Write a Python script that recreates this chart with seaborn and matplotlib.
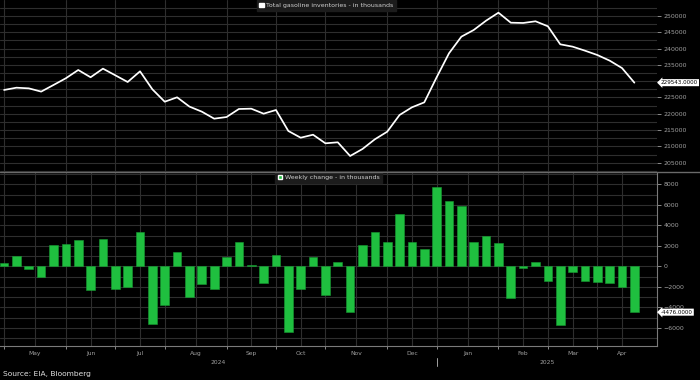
import numpy as np
import pandas as pd
import matplotlib.pyplot as plt
import matplotlib.transforms as mtransforms
from matplotlib.lines import Line2D
from matplotlib.patches import Patch
from matplotlib.ticker import MultipleLocator, FixedLocator, NullFormatter
import seaborn as sns

sns.set_style("dark")
plt.rcParams['font.family'] = ['DejaVu Sans']

# weekly EIA data, thousands of barrels
inventories = [227300, 228000, 227800, 226800, 228830, 230900, 233430, 231200,
               233840, 231800, 229750, 233020, 227500, 223700, 225050, 222200,
               220650, 218500, 219000, 221470, 221560, 220030, 221160, 214720,
               212660, 213580, 210940, 211250, 207050, 209200, 212170, 214500,
               219630, 221980, 223500, 231190, 238550, 243650, 245700, 248560,
               251010, 247940, 247850, 248370, 246840, 241310, 240590, 239360,
               238030, 236300, 234020, 229543]
weekly_change = [330, 975, -290, -1010, 2050, 2150, 2570, -2310,
                 2670, -2240, -2020, 3320, -5630, -3740, 1370, -2960,
                 -1690, -2240, 880, 2340, 130, -1590, 1110, -6370,
                 -2240, 910, -2760, 420, -4450, 2050, 3320, 2370,
                 5100, 2370, 1660, 7710, 6340, 5890, 2370, 2960,
                 2240, -3060, -200, 390, -1460, -5760, -520, -1460,
                 -1560, -1630, -2020, -4476]
first_week = "2024-05-03"
line_label = "Total gasoline inventories - in thousands"
bar_label = "Weekly change - in thousands"
source = "Source: EIA, Bloomberg"

dates = pd.date_range(first_week, periods=len(inventories), freq="7D")
df = pd.DataFrame({"week": np.arange(len(dates)), "inventories": inventories,
                   "change": weekly_change})

# month boundaries = first weekly point of each month
new_month = np.r_[True, dates.month[1:] != dates.month[:-1]]
month_pos = np.flatnonzero(new_month)
month_names = [d.strftime("%b") for d in dates[month_pos]]
month_mid = (month_pos + np.r_[month_pos[1:], len(dates)]) / 2
new_year = np.flatnonzero(np.r_[False, dates.year[1:] != dates.year[:-1]])

W, H = 700, 380
fig = plt.figure(figsize=(7, 3.8), dpi=100, facecolor="black")
ax1 = fig.add_axes([0, 1 - 172 / H, 657 / W, 172 / H])
ax2 = fig.add_axes([0, 1 - 345.5 / H, 657 / W, 173.5 / H])

grid_c = "#2e2e2e"
tick_c = "#a0a0a0"
green = "#1fbf3f"
xlim = (-0.33, 52.83)

sns.lineplot(data=df, x="week", y="inventories", ax=ax1, color="white", lw=1.25)
sns.barplot(data=df, x="week", y="change", ax=ax2, native_scale=True, width=0.7,
            color=green, saturation=1, edgecolor="#179a32", linewidth=0.4, zorder=3)

for ax in (ax1, ax2):
    ax.set_facecolor("black")
    ax.set_xlim(*xlim)
    ax.set_xlabel("")
    ax.set_ylabel("")
    ax.yaxis.tick_right()
    ax.xaxis.set_major_locator(FixedLocator(month_pos))
    ax.xaxis.set_major_formatter(NullFormatter())
    ax.grid(True, which="both", color=grid_c, lw=0.8)
    ax.set_axisbelow(True)
    for s in ax.spines.values():
        s.set_visible(False)
    ax.tick_params(axis="y", which="major", right=True, length=3, width=0.6,
                   color=tick_c, labelcolor=tick_c, labelsize=4.5, pad=1.5)
    ax.tick_params(axis="y", which="minor", length=0)

# top panel
ax1.set_ylim(202140, 254900)
ax1.yaxis.set_major_locator(MultipleLocator(5000))
ax1.yaxis.set_minor_locator(MultipleLocator(2500))
ax1.tick_params(axis="x", which="both", length=0)

# bottom panel
ax2.set_ylim(-7730, 9200)
ax2.yaxis.set_major_locator(MultipleLocator(2000))
ax2.yaxis.set_minor_locator(MultipleLocator(1000))
ax2.xaxis.set_minor_locator(FixedLocator(month_mid))
ax2.set_xticklabels(month_names, minor=True)
ax2.tick_params(axis="x", which="major", bottom=True, length=2.5, width=0.6, color=tick_c)
ax2.tick_params(axis="x", which="minor", bottom=True, length=0, labelsize=4.3,
                labelcolor=tick_c, pad=4)
for s in ("right", "bottom"):
    ax2.spines[s].set_visible(True)
    ax2.spines[s].set_color("#7a7a7a")
    ax2.spines[s].set_linewidth(0.8)

# last-value tags
for ax, val in ((ax1, inventories[-1]), (ax2, weekly_change[-1])):
    ax.annotate(f"{val:.4f}", xy=(1.0, val), xycoords=("axes fraction", "data"),
                xytext=(2.8, 0), textcoords="offset points", ha="left", va="center",
                fontsize=4.1, color="black", annotation_clip=False, zorder=10,
                bbox=dict(boxstyle="larrow,pad=0.18", fc="white", ec="none"))

# legends
for ax, lab, c, xa in ((ax1, line_label, "white", 0.497), (ax2, bar_label, green, 0.5)):
    ax.legend(handles=[Patch(facecolor=c, label=lab)], loc="upper center",
              bbox_to_anchor=(xa, 1.0), fontsize=4.5, labelcolor="#cfcfcf",
              facecolor="#1c1c1c", edgecolor="#1c1c1c", framealpha=1, fancybox=False,
              handlelength=0.7, handleheight=0.7, handletextpad=0.4, borderpad=0.45,
              borderaxespad=0)

# panel separator
fig.add_artist(Line2D([0, 1], [1 - 172 / H] * 2, transform=fig.transFigure,
                      color="#6a6a6a", lw=1))

# year labels and divider
trans = mtransforms.blended_transform_factory(ax2.transData, fig.transFigure)
bounds = np.r_[xlim[0], new_year, xlim[1]]
years = [str(dates[0].year)] + [str(dates[i].year) for i in new_year]
for k, yr in enumerate(years):
    ax2.text((bounds[k] + bounds[k + 1]) / 2, 1 - 362 / H, yr, transform=trans,
             ha="center", va="center", fontsize=4.3, color=tick_c)
for i in new_year:
    ax2.plot([i, i], [1 - 357.5 / H, 1 - 365.5 / H], transform=trans, color=tick_c,
             lw=0.7, clip_on=False)

fig.text(3 / W, 1 - 374 / H, source, ha="left", va="center", fontsize=5.4, color="#e0e0e0")

fig.savefig("out.png", dpi=100, facecolor="black")
